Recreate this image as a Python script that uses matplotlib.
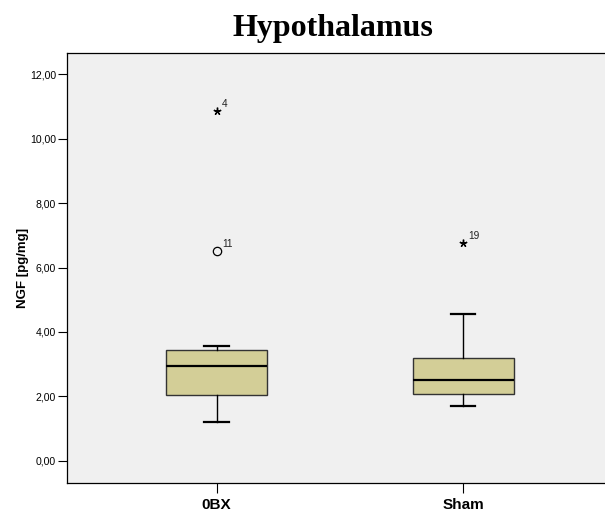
import matplotlib.pyplot as plt

# dados
grupos = ['0BX', 'Sham']
q1 = [2.05, 2.08]
mediana = [2.93, 2.51]
q3 = [3.43, 3.18]
bigode_inf = [1.19, 1.71]
bigode_sup = [3.58, 4.57]

# outliers: (grupo, valor, rótulo, tipo)
outlier_grupo = [1, 1, 2]
outlier_valor = [10.87, 6.50, 6.76]
outlier_rotulo = ['4', '11', '19']
outlier_extremo = [True, False, True]

plt.rcParams['font.family'] = ['Liberation Sans', 'DejaVu Sans']

fig = plt.figure(figsize=(6.05, 5.16), dpi=100)
ax = fig.add_axes([0.110, 0.0645, 0.903, 0.832])
ax.set_facecolor('#f0f0f0')

stats = []
for i in range(len(grupos)):
    stats.append({'med': mediana[i], 'q1': q1[i], 'q3': q3[i],
                  'whislo': bigode_inf[i], 'whishi': bigode_sup[i],
                  'fliers': [], 'label': grupos[i]})

ax.bxp(stats, positions=[1, 2], widths=0.41, capwidths=0.1, showfliers=False,
       patch_artist=True,
       boxprops=dict(facecolor='#d3ce97', edgecolor='#333333', linewidth=1.0),
       medianprops=dict(color='black', linewidth=1.6),
       whiskerprops=dict(color='black', linewidth=1.0),
       capprops=dict(color='black', linewidth=1.6))

for g, v, r, e in zip(outlier_grupo, outlier_valor, outlier_rotulo, outlier_extremo):
    if e:
        ax.plot(g, v, marker=(5, 2, 0), color='black', markersize=5.5,
                markeredgewidth=1.0, linestyle='none')
    else:
        ax.plot(g, v, marker='o', markerfacecolor='none', markeredgecolor='black',
                markersize=6, markeredgewidth=0.9, linestyle='none')
    ax.annotate(r, (g, v), xytext=(4, 3), textcoords='offset points',
                fontsize=7.3, color='#222222')

ax.set_xlim(0.392, 2.607)
ax.set_ylim(-0.68, 12.65)
ax.set_yticks([0, 2, 4, 6, 8, 10, 12])
ax.set_yticklabels(['0,00', '2,00', '4,00', '6,00', '8,00', '10,00', '12,00'], fontsize=7.6)
ax.set_xticks([1, 2])
ax.set_xticklabels(grupos, fontsize=11, fontweight='bold')
ax.tick_params(axis='y', length=6.5, width=0.8, color='black', pad=1)
ax.tick_params(axis='x', length=7, width=0.8, color='black', pad=4)
ax.set_ylabel('NGF [pg/mg]', fontsize=9.5, fontweight='bold', labelpad=1)

for s in ['left', 'bottom', 'top']:
    ax.spines[s].set_color('black')
    ax.spines[s].set_linewidth(0.9)
ax.spines['right'].set_visible(False)

fig.text(0.55, 0.931, 'Hypothalamus', ha='center', va='baseline',
         fontsize=23, fontweight='bold', family='Liberation Serif')

fig.savefig('out.png', dpi=100, facecolor='white')
